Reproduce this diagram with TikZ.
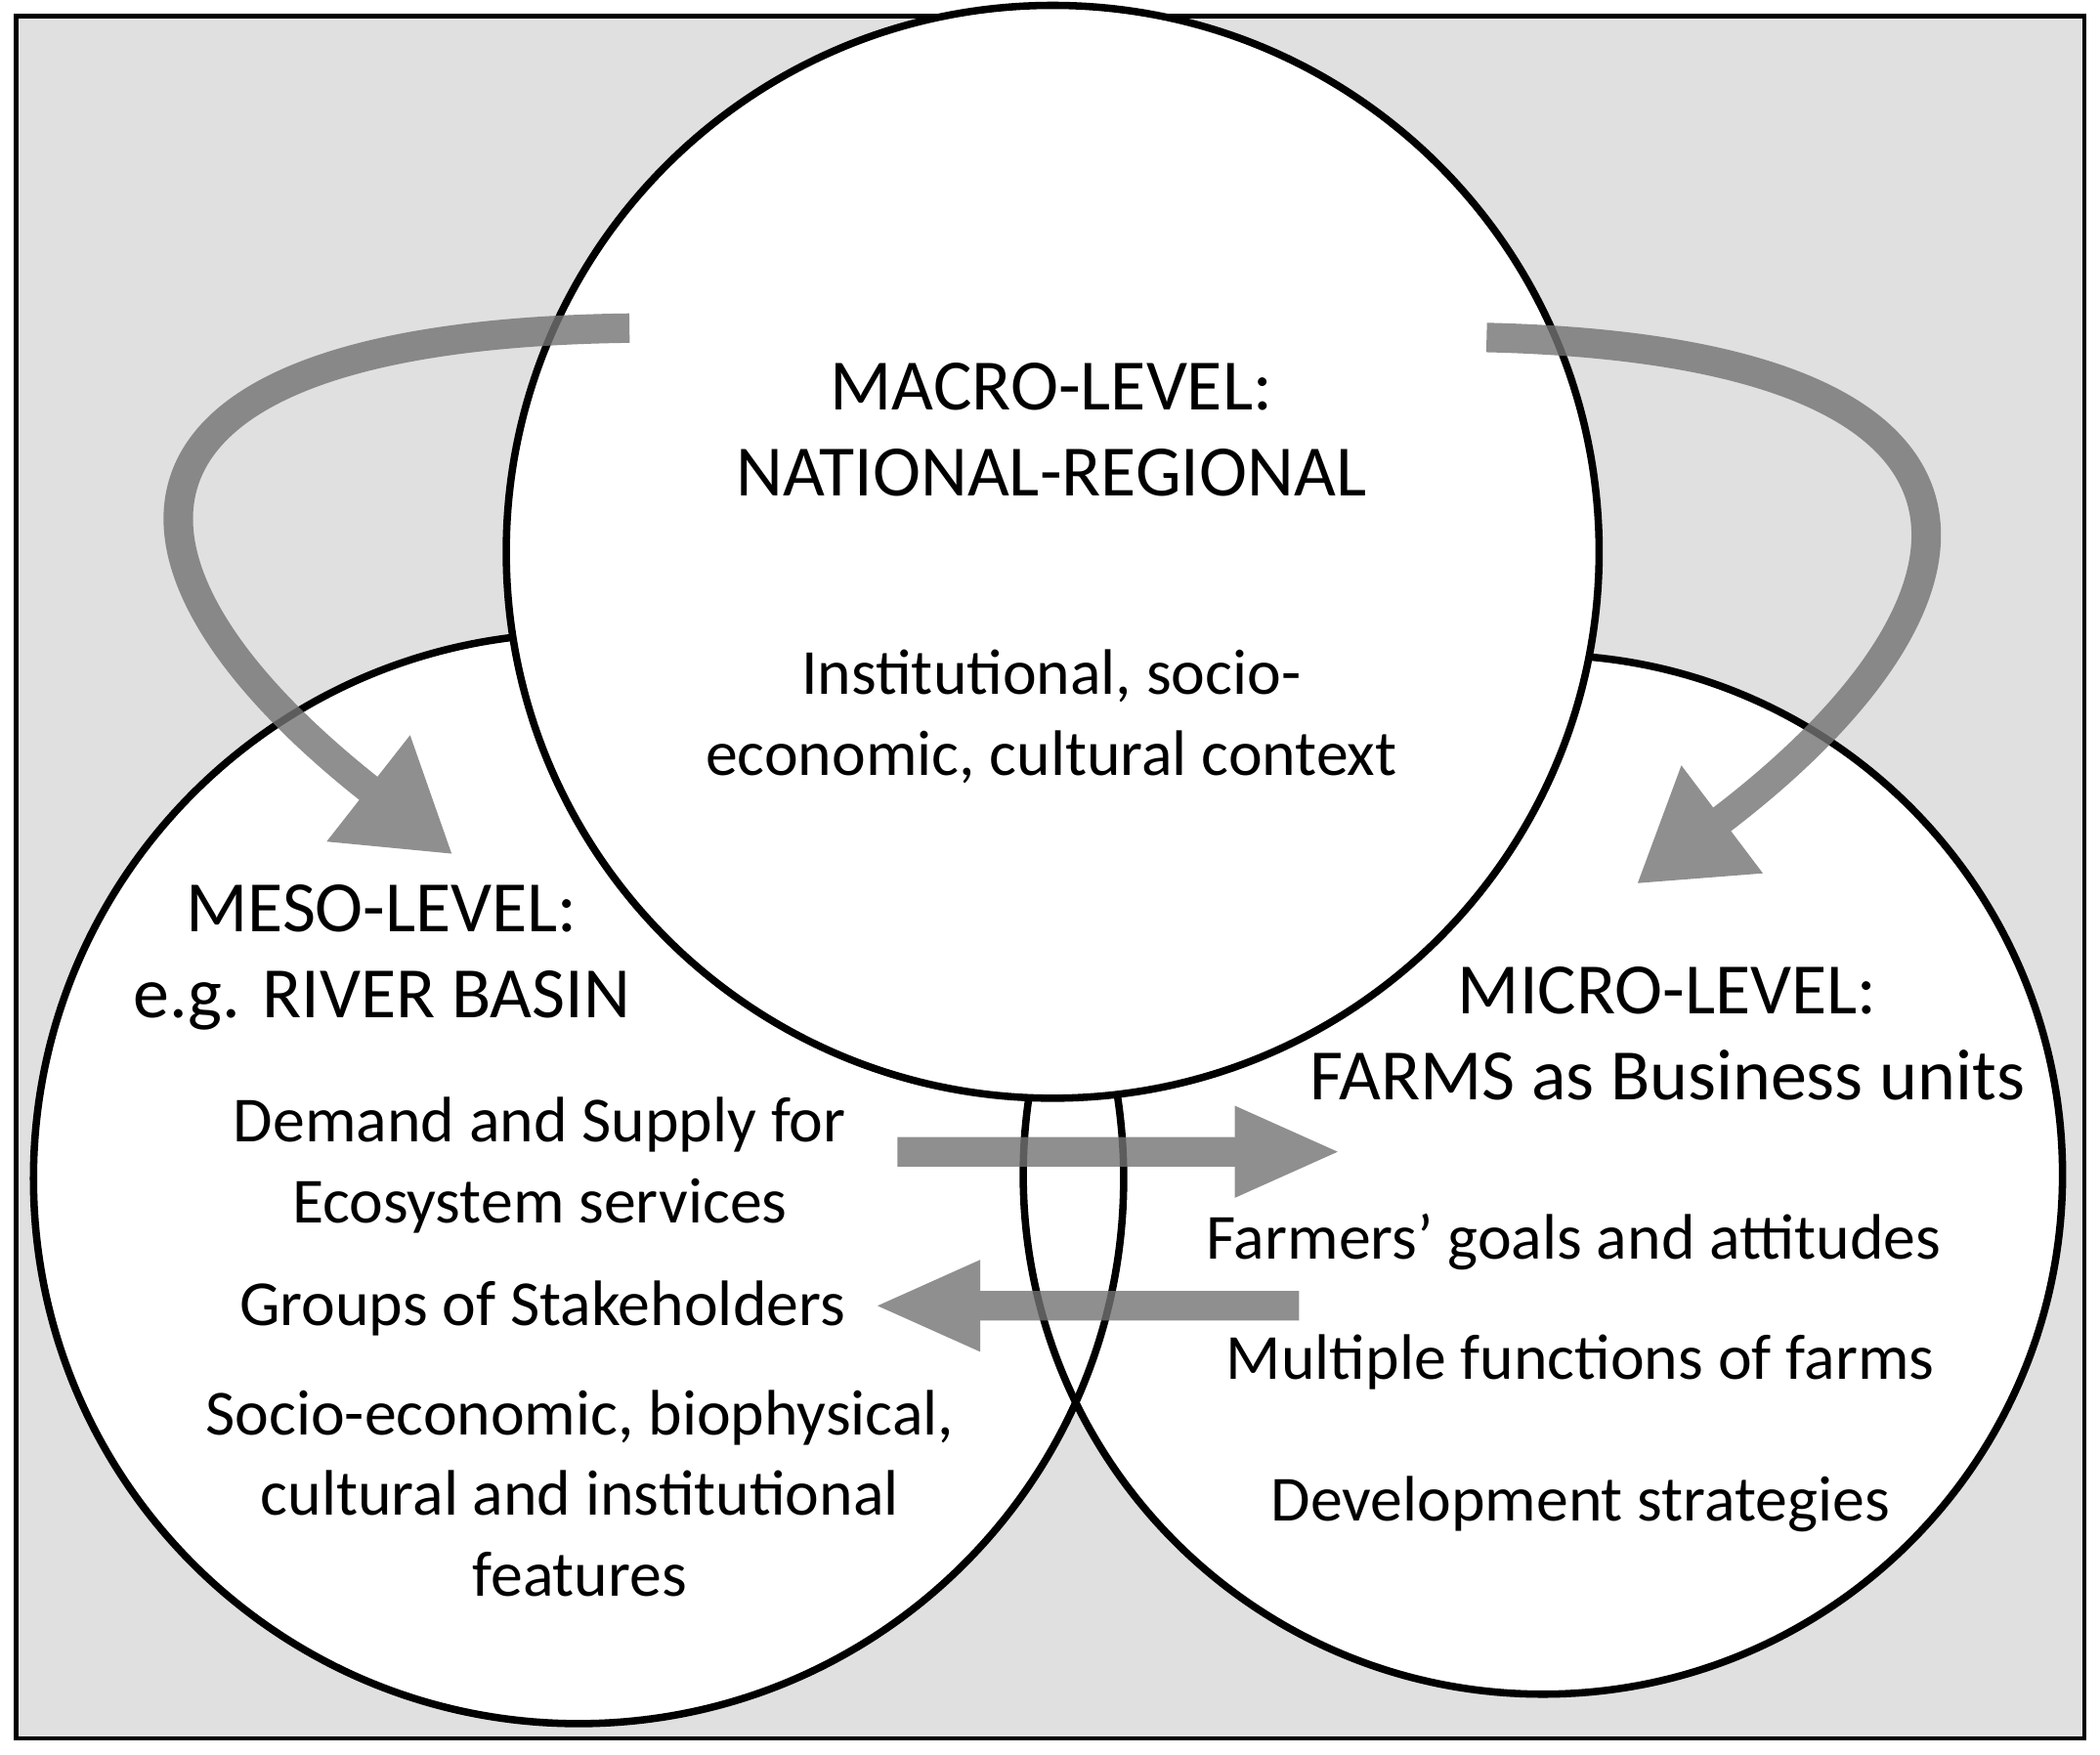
\documentclass[tikz,border=0pt]{standalone}
\usepackage{fontspec}
\setmainfont{Carlito}
\usetikzlibrary{arrows.meta}
\begin{document}
\begin{tikzpicture}[x=1pt,y=-1pt,
  circ/.style={draw=black,line width=5.5pt,fill=white},
  head/.style={font=\fontsize{54}{64}\selectfont,align=center},
  body/.style={font=\fontsize{48}{60}\selectfont,align=center},
  grp/.style={transparency group,opacity=0.8},
  bigarrow/.style={draw=gray!90!black,line width=22pt,
     -{Triangle[length=80pt,width=95pt]}},
  flatarrow/.style={draw=gray!90!black,line width=22pt,
     -{Triangle[length=80pt,width=62pt]}}]
\useasboundingbox (0,0) rectangle (1568,1310);
\fill[white] (0,0) rectangle (1568,1310);
\draw[fill=black!12,line width=3pt] (12,12) rectangle (1556,1298);
% circles: fills first, then outlines
\fill[white] (432,880) circle (407);
\fill[white] (1152,877) circle (388);
\draw[line width=5.5pt] (432,880) circle (407);
\draw[line width=5.5pt] (1152,877) circle (388);
\node[circ,circle,minimum size=816pt,inner sep=0pt] (macro) at (786,412) {};
% texts
\node[head] (macroT) at (785,321) {MACRO-LEVEL:\\NATIONAL-REGIONAL};
\node[body] (macroB) at (785,535) {Institutional, socio-\\economic, cultural context};
\node[head] (mesoT) at (285,715) {MESO-LEVEL:\\e.g. RIVER BASIN};
\node[body] (demand) at (403,870) {Demand and Supply for\\Ecosystem services};
\node[body] (groups) at (405,977) {Groups of Stakeholders};
\node[body] (socio) at (433,1115) {Socio-economic, biophysical,\\cultural and institutional\\features};
\node[head] (microT) at (1245,772) {MICRO-LEVEL:\\FARMS as Business units};
\node[body] (goals) at (1175,927) {Farmers\symbol{"27} goals and attitudes};
\node[body] (funcs) at (1180,1017) {Multiple functions of farms};
\node[body] (dev) at (1180,1123) {Development strategies};
% arrows
\coordinate (l0) at (470,245);
\coordinate (l1) at (338,638);
\coordinate (r0) at (1110,252);
\coordinate (r1) at (1222,660);
\coordinate (h0) at (670,860);
\coordinate (h1) at (1002,860);
\coordinate (k0) at (970,975);
\coordinate (k1) at (652,975);
\begin{scope}[grp]
\draw[bigarrow] (l0) .. controls (60,250) and (60,420) .. (l1);
\end{scope}
\begin{scope}[grp]
\draw[bigarrow] (r0) .. controls (1530,262) and (1500,450) .. (r1);
\end{scope}
\begin{scope}[grp]
\draw[flatarrow] (h0) -- (h1);
\end{scope}
\begin{scope}[grp]
\draw[flatarrow] (k0) -- (k1);
\end{scope}
\end{tikzpicture}
\end{document}
